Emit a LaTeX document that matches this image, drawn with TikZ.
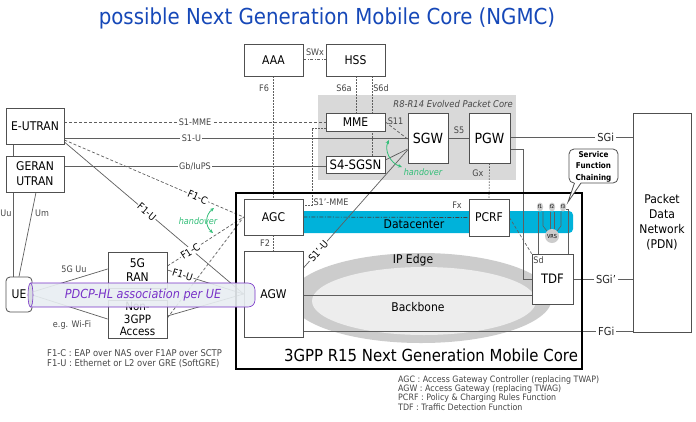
\documentclass[tikz,border=0pt]{standalone}
\usepackage{fontspec}
\setmainfont{DejaVu Sans}[FakeStretch=0.9]
\usetikzlibrary{shapes.geometric,arrows.meta}
\pgfdeclarelayer{bg}\pgfdeclarelayer{lines}\pgfdeclarelayer{top}
\pgfsetlayers{bg,lines,main,top}
\definecolor{ttl}{RGB}{22,72,184}
\definecolor{epc}{RGB}{217,217,217}
\definecolor{dcb}{RGB}{0,178,218}
\definecolor{ipo}{RGB}{204,204,204}
\definecolor{ipi}{RGB}{237,237,237}
\definecolor{hv}{RGB}{50,190,120}
\definecolor{pur}{RGB}{120,50,200}
\definecolor{cyl}{RGB}{232,238,242}
\definecolor{lbl}{RGB}{70,70,70}
\definecolor{wc}{RGB}{95,95,95}
\definecolor{bxc}{RGB}{80,80,80}
\begin{document}
\begin{tikzpicture}[x=1pt,y=-1pt,
  box/.style={draw=bxc, fill=white, line width=0.8pt, inner sep=0pt, align=center, font=\fontsize{12}{14}\selectfont},
  lab/.style={font=\fontsize{9}{10}\selectfont, text=lbl, inner sep=1pt},
  labw/.style={lab, fill=white, inner sep=1.5pt},
  flab/.style={font=\fontsize{10}{11}\selectfont, text=black, fill=white, inner sep=1pt},
  sglab/.style={font=\fontsize{11}{12}\selectfont, text=black!85, fill=white, inner sep=2pt},
  wire/.style={draw=wc, line width=0.7pt},
  dotw/.style={wire, dash pattern=on 1.5pt off 1.5pt},
  dashw/.style={wire, dash pattern=on 3pt off 2pt},
  hov/.style={draw=hv, line width=0.8pt, {Stealth[length=4pt,width=3.5pt]}-{Stealth[length=4pt,width=3.5pt]}},
  hovt/.style={font=\itshape\fontsize{9}{10}\selectfont, text=hv, inner sep=0pt},
  fnode/.style={ellipse, fill=ipo, inner sep=0pt, minimum width=6pt, minimum height=9pt, font=\fontsize{5}{5}\selectfont},
  legtext/.style={font=\fontsize{9.3}{10}\selectfont, text=lbl, inner sep=0pt, anchor=west},
  legr/.style={font=\fontsize{8.8}{9}\selectfont, text=lbl, inner sep=0pt, anchor=west},
]
\useasboundingbox (0,0) rectangle (696,421);

\begin{pgfonlayer}{bg}
\fill[white] (0,0) rectangle (696,421);
\fill[epc] (318,95) rectangle (516,180);
\fill[ipo] (421,298) ellipse [x radius=131pt, y radius=45pt];
\fill[ipi] (424,301) ellipse [x radius=112pt, y radius=34pt];
\fill[dcb, rounded corners=4pt] (290,211) rectangle (573,233);
\end{pgfonlayer}

% title
\node[font=\fontsize{22}{24}\selectfont, text=ttl] (title) at (327,18) {possible Next Generation Mobile Core (NGMC)};

\node[font=\itshape\fontsize{9.3}{10}\selectfont, text=lbl, anchor=east, inner sep=0pt] (epclab) at (513,104) {R8-R14 Evolved Packet Core};

% NGMC frame
\draw[line width=1.8pt] (236,193) rectangle (582,369);
\node[font=\fontsize{16.6}{18}\selectfont] (ngmc) at (431,355) {3GPP R15 Next Generation Mobile Core};

\node[font=\fontsize{12}{14}\selectfont] (dctext) at (414,224) {Datacenter};
\node[font=\fontsize{12}{14}\selectfont] (ipedge) at (413,260) {IP Edge};
\node[font=\fontsize{12}{14}\selectfont] (backbone) at (418,307) {Backbone};

% boxes
\node[box, minimum width=59pt, minimum height=32pt] (aaa) at (273.5,60) {AAA};
\node[box, minimum width=59pt, minimum height=32pt] (hss) at (355.5,60) {HSS};
\node[box, minimum width=59pt, minimum height=18pt] (mme) at (355.5,122) {MME};
\node[box, minimum width=59pt, minimum height=17pt, font=\fontsize{13}{14}\selectfont] (sgsn) at (355.5,164.5) {S4-SGSN};
\node[box, minimum width=40pt, minimum height=50pt, font=\fontsize{14}{16}\selectfont] (sgw) at (428,138) {SGW};
\node[box, minimum width=41pt, minimum height=50pt, font=\fontsize{14}{16}\selectfont] (pgw) at (489.5,138) {PGW};
\node[box, minimum width=58pt, minimum height=219pt, font=\fontsize{12}{15}\selectfont] (pdn) at (662,222.5) {Packet\\Data\\Network\\(PDN)};
\node[box, minimum width=58pt, minimum height=36pt] (eutran) at (35,126) {E-UTRAN};
\node[box, minimum width=58pt, minimum height=36pt, font=\fontsize{12}{15}\selectfont] (geran) at (35,174) {GERAN\\UTRAN};
\node[box, rounded corners=4pt, minimum width=26pt, minimum height=35pt] (ue) at (19,294.5) {UE};
\node[box, minimum width=59pt, minimum height=36pt, font=\fontsize{12}{14}\selectfont] (ran) at (137.5,270) {5G\\RAN};
\node[box, minimum width=59pt, minimum height=38pt, font=\fontsize{11.5}{12.8}\selectfont] (n3gpp) at (137.5,319) {Non-\\3GPP\\Access};
\node[box, minimum width=59pt, minimum height=36pt] (agc) at (273.5,217) {AGC};
\node[box, minimum width=59pt, minimum height=86pt] (agw) at (273.5,294) {AGW};
\node[box, minimum width=40pt, minimum height=37pt] (pcrf) at (489,217.5) {PCRF};
\node[box, minimum width=41pt, minimum height=50pt, font=\fontsize{13}{14}\selectfont] (tdf) at (552.5,279) {TDF};

% service functions
\node[fnode] (f1) at (540,207) {f1};
\node[fnode] (f2) at (552,207) {f2};
\node[fnode] (f3) at (563,207) {f3};
\node[circle, fill=ipo, minimum size=14pt, inner sep=0pt, font=\fontsize{5.5}{6}\selectfont] (vrs) at (552,236) {VRS};

\begin{pgfonlayer}{lines}
\draw[wire, dash pattern=on 3pt off 1.5pt on 1pt off 1.5pt] (aaa.east |- 0,59) -- (hss.west |- 0,59);
\draw[dotw] (aaa.south) -- (agc.north);
\draw[dotw] (hss.south -| 356,0) -- (mme.north -| 356,0);
\draw[dotw] (hss.south -| 372,0) -- (sgsn.north -| 372,0);
\draw[dotw] (agc.south) -- (agw.north);
\draw[dotw] (pgw.south) -- (pcrf.north);
\draw[dotw] (mme.west |- 0,128) -- (312,128) -- (312,205) -- (agc.east |- 0,205);
\draw[dashw] (mme.east |- 0,122) -- (sgw.west |- 0,139);
\draw[wire] (sgw.east) -- (pgw.west);
\draw[wire] (pgw.east |- 0,137) -- node[sglab, pos=0.78]{SGi} (pdn.west |- 0,137);
\draw[wire] (pgw.east |- 0,149) -- (523,149) -- (523,279) -- (tdf.west);
\draw[wire] (tdf.east) -- node[sglab, pos=0.55]{SGi'} (pdn.west |- tdf.east);
\draw[wire] (agw.east |- 0,295) -- (tdf.west |- 0,295);
\draw[wire] (agw.east |- 0,331) -- node[sglab, pos=0.92]{FGi} (pdn.west |- 0,331);
\draw[dashw] (pcrf.east) -- (tdf.north west);
\draw[wire, draw=black!75, dash pattern=on 4pt off 1.5pt on 1pt off 1.5pt] (agc.east) -- (pcrf.west);
\draw[dashw] (eutran.east |- 0,122) -- node[labw]{S1-MME} (mme.west |- 0,122);
\draw[wire] (eutran.east |- 0,138) -- node[labw, pos=0.37]{S1-U} (sgw.west |- 0,138);
\draw[wire] (geran.east |- 0,166) -- node[labw]{Gb/IuPS} (sgsn.west |- 0,166);
\draw[wire] (sgsn.east |- 0,160) -- (sgw.west |- 0,149);
\draw[wire] (sgw.west |- 0,150) -- node[flab, sloped, pos=0.857]{S1'-U} (agw.east |- 0,268);
\draw[dashw] (eutran.east |- 0,140) -- node[flab, sloped, pos=0.744]{F1-C} (agc.west);
\draw[wire] (eutran.east |- 0,142) -- node[flab, sloped, pos=0.46]{F1-U} (agw.west);
\draw[dashw] (ran.east |- 0,266) -- node[flab, sloped, pos=0.3]{F1-C} (agc.west);
\draw[wire] (ran.east |- 0,270) -- node[flab, sloped, pos=0.2]{F1-U} (agw.west);
\draw[dashw] (n3gpp.east |- 0,318) -- (agc.west);
\draw[wire] (n3gpp.east |- 0,316) -- (agw.west);
\draw[wire] (ue.east |- 0,292) -- (ran.west |- 0,269);
\draw[wire] (ue.east |- 0,295) -- (n3gpp.west |- 0,319);
\draw[wire] (eutran.south -| 13,0) -- (ue.north -| 13,0);
\draw[wire] (geran.south -| 36,0) -- (ue.north -| 19,0);
% service function chain lines
\draw[wire, line width=0.6pt] (f1.south -| 538,0) -- (tdf.north -| 538,0);
\draw[wire, line width=0.6pt] (f1.south -| 543,0) -- (543,226) -- (vrs.north west);
\draw[wire, line width=0.6pt] (f2.south -| 550,0) -- (vrs.north -| 550,0);
\draw[wire, line width=0.6pt] (f2.south -| 554,0) -- (vrs.north -| 554,0);
\draw[wire, line width=0.6pt] (f3.south -| 561,0) -- (561,226) -- (vrs.north east);
\draw[wire, line width=0.6pt] (f3.east |- 0,209) -- (568,209) -- (tdf.north -| 568,0);
\end{pgfonlayer}

% labels
\node[lab] (lswx) at (315,52) {SWx};
\node[lab] (lf6) at (264,88) {F6};
\node[lab] (ls6a) at (344,88) {S6a};
\node[lab] (ls6d) at (381,88) {S6d};
\node[lab] (ls11) at (395.5,121) {S11};
\node[lab] (ls5) at (459,130) {S5};
\node[lab] (lgx) at (478,173) {Gx};
\node[lab] (lfx) at (457,205) {Fx};
\node[lab] (lf2) at (265,243) {F2};
\node[lab] (ls1mme) at (331,202) {S1'-MME};
\node[lab] (lsd) at (538.5,260) {Sd};
\node[lab] (luu) at (6,213) {Uu};
\node[lab] (lum) at (42,213) {Um};
\node[lab] (l5guu) at (74,269) {5G Uu};
\node[lab] (lwifi) at (72,325) {e.g. Wi-Fi};

% handover
\draw[hov] (214,208) .. controls (205,215) and (205,226) .. (213,233);
\node[hovt] (hov1) at (198,221) {handover};
\draw[hov] (389,140) .. controls (384,150) and (390,163) .. (402,167);
\node[hovt] (hov2) at (423,172) {handover};

% callout
\draw[bxc, line width=0.8pt, fill=white, rounded corners=5pt] (569,149) rectangle (618,183);
\fill[white] (574.5,182) -- (568,202) -- (581,182) -- cycle;
\draw[bxc, line width=0.8pt] (574.5,183) -- (568,202) -- (581,183);
\node[font=\bfseries\fontsize{8}{11.5}\selectfont, align=center, inner sep=0pt] (sfc) at (593.5,166.5) {Service\\Function\\Chaining};

% legends
\node[legtext] (leg1) at (47,353) {F1-C : EAP over NAS over F1AP over SCTP};
\node[legtext] (leg2) at (47,364) {F1-U : Ethernet or L2 over GRE (SoftGRE)};
\node[legr] (leg3) at (398,380) {AGC : Access Gateway Controller (replacing TWAP)};
\node[legr] (leg4) at (398,389) {AGW : Access Gateway (replacing TWAG)};
\node[legr] (leg5) at (398,398) {PCRF : Policy \& Charging Rules Function};
\node[legr] (leg6) at (398,407) {TDF : Traffic Detection Function};

% PDCP-HL cylinder
\begin{pgfonlayer}{top}
\path[fill=cyl, fill opacity=0.9] (30.5,283) -- (248,283) .. controls (252,283) and (255,286) .. (255,290) -- (255,300) .. controls (255,304) and (252,307) .. (248,307) -- (30.5,307) -- cycle;
\draw[pur, line width=0.6pt] (30.5,283) -- (248,283) .. controls (252,283) and (255,286) .. (255,290) -- (255,300) .. controls (255,304) and (252,307) .. (248,307) -- (30.5,307);
\draw[pur, line width=0.6pt, fill=cyl!85!gray] (30.5,295) ellipse [x radius=2.5pt, y radius=12pt];
\node[font=\itshape\fontsize{12.5}{13}\selectfont, text=pur] (pdcp) at (143,295) {PDCP-HL association per UE};
\end{pgfonlayer}
\end{tikzpicture}
\end{document}
